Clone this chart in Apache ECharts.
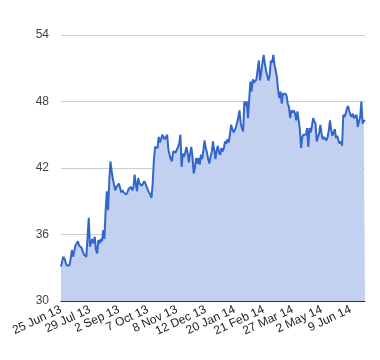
<!DOCTYPE html>
<html>
<head>
<meta charset="utf-8">
<script src="https://cdn.jsdelivr.net/npm/echarts@6/dist/echarts.min.js"></script>
<style>
html,body{margin:0;padding:0;background:#fff;}
#chart{width:380px;height:360px;}
</style>
</head>
<body>
<div id="chart"></div>
<script>
// Tick labels shown on the x axis (every 24th trading day)
const tickLabels = ["25 Jun 13","29 Jul 13","2 Sep 13","7 Oct 13","8 Nov 13","12 Dec 13","20 Jan 14","21 Feb 14","27 Mar 14","2 May 14","9 Jun 14"];
const labelStep = 24;

// Daily closing values
const values = [
  33.1, 33.6, 34.0, 33.8, 33.4, 33.2, 33.3, 33.2, 33.8, 34.6,
  34.0, 34.5, 35.0, 35.2, 35.4, 35.0, 34.9, 34.8, 34.5, 34.2,
  34.1, 34.0, 34.0, 37.5, 34.9, 35.3, 35.6, 35.2, 35.8, 34.6,
  34.3, 35.5, 35.2, 35.6, 35.4, 36.4, 35.6, 38.2, 39.9, 38.2,
  40.8, 42.6, 41.7, 41.0, 40.5, 40.0, 40.3, 40.2, 40.6, 40.5,
  39.8, 40.0, 39.8, 39.9, 39.6, 39.8, 40.1, 40.0, 40.3, 40.0,
  40.2, 41.4, 40.6, 39.9, 41.1, 40.6, 40.7, 40.4, 40.5, 40.8,
  40.6, 40.3, 40.0, 39.8, 39.6, 39.3, 40.6, 42.7, 43.9, 44.0,
  43.8, 44.8, 44.3, 44.6, 45.0, 45.1, 44.6, 44.8, 45.0, 43.7,
  43.2, 42.8, 42.6, 43.5, 43.6, 43.4, 43.5, 43.9, 44.2, 45.0,
  42.1, 43.3, 43.0, 43.4, 43.9, 43.3, 42.5, 43.3, 43.9, 43.0,
  41.5, 42.0, 42.9, 42.4, 42.9, 42.3, 43.2, 42.8, 43.6, 44.5,
  43.8, 43.4, 42.8, 42.4, 43.0, 43.5, 44.4, 43.6, 42.8, 43.6,
  44.0, 43.4, 43.2, 43.8, 43.5, 43.8, 44.4, 44.2, 44.6, 44.3,
  45.0, 45.9, 45.5, 45.2, 45.4, 45.7, 46.1, 46.6, 47.2, 46.0,
  45.6, 45.3, 48.0, 47.6, 48.0, 46.5, 48.2, 49.8, 48.9, 50.0,
  49.7, 49.8, 50.0, 49.9, 51.7, 49.9, 50.0, 51.5, 52.2, 51.4,
  50.8, 50.3, 49.9, 50.4, 51.7, 51.5, 52.2, 51.3, 50.8, 50.2,
  49.0, 48.3, 48.9, 47.8, 48.7, 48.6, 48.7, 48.5, 47.8, 47.5,
  46.5, 47.2, 47.0, 47.2, 46.9, 46.3, 47.1, 46.3, 45.5, 43.8,
  44.8, 45.0, 44.9, 45.0, 45.6, 43.9, 45.6, 45.2, 45.8, 46.5,
  46.2, 46.0, 44.4, 44.8, 45.1, 45.9, 45.1, 44.6, 44.8, 44.9,
  44.5, 44.8, 45.4, 46.3, 45.4, 44.9, 45.2, 45.5, 44.7, 44.9,
  44.5, 44.2, 44.4, 44.0, 46.8, 46.6, 46.9, 47.4, 47.6, 47.1,
  46.8, 46.6, 46.9, 46.5, 46.4, 46.8, 45.7, 46.2, 46.6, 48.0,
  46.0, 46.3, 46.2
];

// y-axis ticks
const yMin = 30, yMax = 54, yStep = 6;

// categories: tick label at every labelStep-th day, blank otherwise
const categories = values.map((v, i) => (i % labelStep === 0 && tickLabels[i / labelStep]) ? tickLabels[i / labelStep] : "");

const chart = echarts.init(document.getElementById('chart'), null, {renderer: 'canvas'});
chart.setOption({
  animation: false,
  grid: {left: 61, right: 15, top: 35, bottom: 59, containLabel: false},
  xAxis: {
    type: 'category',
    data: categories,
    boundaryGap: false,
    axisLine: {show: true, lineStyle: {color: '#333', width: 1}},
    axisTick: {show: false},
    axisLabel: {
      interval: labelStep - 1,
      rotate: 25,
      margin: 8,
      color: '#222',
      fontFamily: 'Liberation Sans, Arial, sans-serif',
      fontSize: 12
    },
    splitLine: {show: false}
  },
  yAxis: {
    type: 'value',
    min: yMin, max: yMax, interval: yStep,
    axisLine: {show: false},
    axisTick: {show: false},
    axisLabel: {
      margin: 12,
      color: '#444',
      fontFamily: 'Liberation Sans, Arial, sans-serif',
      fontSize: 12
    },
    splitLine: {show: true, lineStyle: {color: '#cccccc', width: 1}}
  },
  series: [{
    type: 'line',
    data: values,
    showSymbol: false,
    symbol: 'none',
    lineStyle: {color: '#3366cc', width: 2},
    areaStyle: {color: '#c2d1f0', opacity: 1, origin: 'start'},
    itemStyle: {color: '#3366cc'}
  }]
});
</script>
</body>
</html>
